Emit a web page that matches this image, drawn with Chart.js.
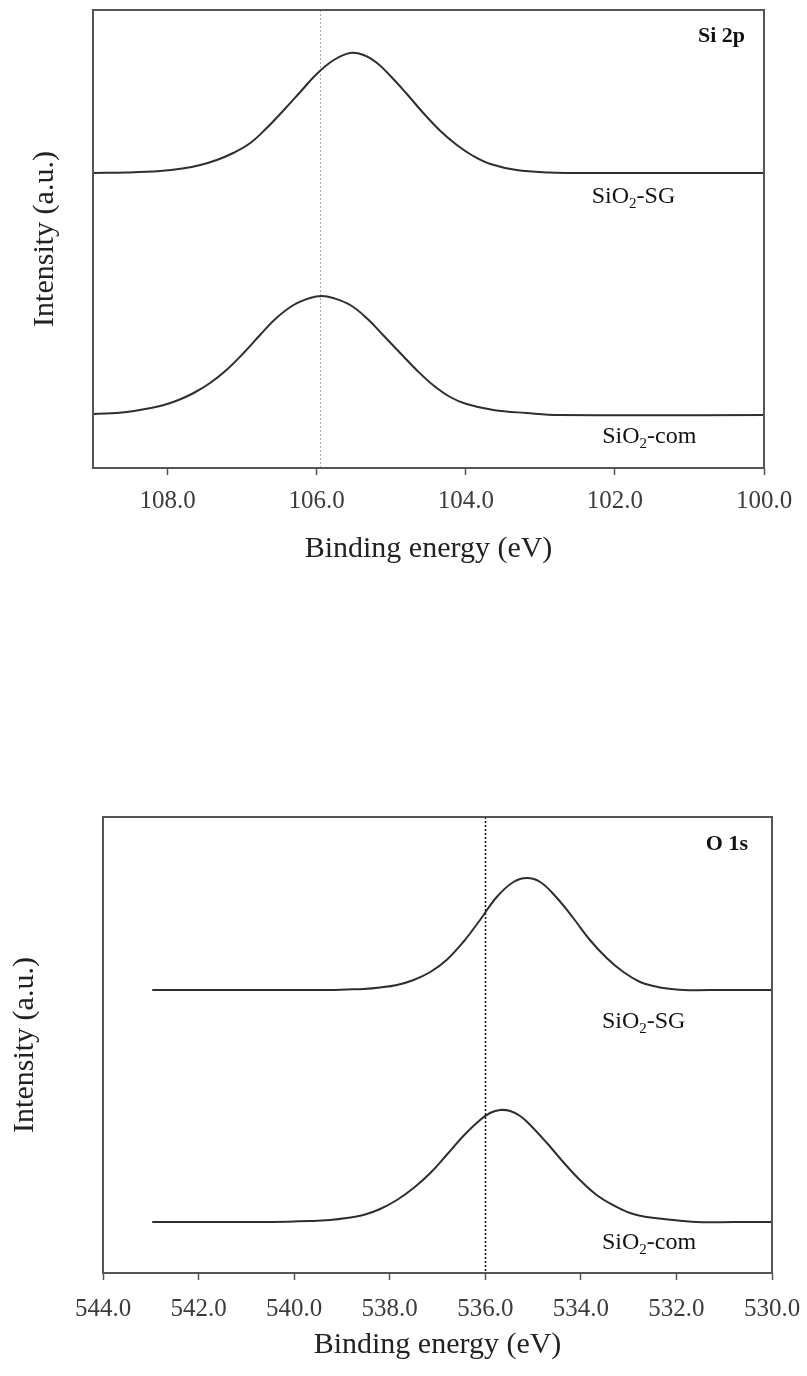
<!DOCTYPE html>
<html>
<head>
<meta charset="utf-8">
<script src="https://cdn.jsdelivr.net/npm/chart.js@4.4.1/dist/chart.umd.min.js"></script>
<style>
  html, body { margin: 0; padding: 0; background: #fff; }
  body { width: 807px; height: 1376px; position: relative; overflow: hidden; }
  canvas { position: absolute; left: 0; }
  #si2p { top: 0; }
  #o1s { top: 780px; }
</style>
</head>
<body>
<canvas id="si2p" width="807" height="620"></canvas>
<canvas id="o1s" width="807" height="596"></canvas>
<script>
// tick labels (eV)
const si2pTicks = [108, 106, 104, 102, 100];
const o1sTicks = [544, 542, 540, 538, 536, 534, 532, 530];

// Si 2p, SiO2-SG
const siSgEnergy = [109.0, 108.55, 108.10, 107.80, 107.56, 107.34, 107.12, 106.89, 106.67, 106.44, 106.22, 106.00, 105.77, 105.55, 105.37, 105.19, 105.01, 104.79, 104.57, 104.34, 104.12, 103.90, 103.67, 103.32, 102.87, 102.47, 100.0];
const siSgIntensity = [295, 295.5, 297, 299.5, 303, 308, 315, 325, 340, 358, 376, 394, 408, 415, 413, 405, 392, 374, 355, 337, 323, 312, 304, 298, 295.5, 295, 295];

// Si 2p, SiO2-com
const siComEnergy = [109.0, 108.55, 108.10, 107.87, 107.65, 107.43, 107.21, 106.98, 106.76, 106.54, 106.31, 106.09, 105.93, 105.78, 105.55, 105.33, 105.11, 104.88, 104.66, 104.44, 104.21, 103.99, 103.63, 103.19, 102.74, 100.0];
const siComIntensity = [54, 56, 62, 67.5, 75, 85, 98, 115, 133, 150, 163, 170, 172, 170, 163, 150, 133, 115, 98, 83, 71, 64, 58, 55, 53, 53];

// O 1s, SiO2-SG
const oSgEnergy = [542.97, 540.5, 539.25, 538.90, 538.55, 538.20, 537.85, 537.50, 537.15, 536.81, 536.46, 536.11, 535.76, 535.41, 535.13, 534.85, 534.50, 534.16, 533.81, 533.46, 533.11, 532.76, 532.48, 532.20, 531.86, 531.0, 530.0];
const oSgIntensity = [283, 283, 283, 283.5, 284, 285.5, 288, 293, 301, 313, 331, 353, 376, 391, 395, 391, 375, 355, 333, 315, 301, 291, 287, 284.5, 283, 283, 283];

// O 1s, SiO2-com
const oComEnergy = [542.97, 540.5, 539.60, 539.25, 538.90, 538.55, 538.20, 537.85, 537.50, 537.15, 536.81, 536.46, 536.11, 535.90, 535.69, 535.48, 535.27, 535.06, 534.71, 534.37, 534.02, 533.67, 533.33, 532.97, 532.62, 532.27, 531.58, 530.8, 530.0];
const oComIntensity = [51, 51, 52, 53, 55, 58, 64, 73, 85, 100, 118, 137, 153, 160, 163, 162, 157, 148, 130, 111, 93, 78, 68, 60, 56, 54, 51, 51, 51];

// reference (dotted) lines
const si2pRefLine = 105.95;
const o1sRefLine = 536.0;

(function init() {
  const serif = '"Liberation Serif", "Times New Roman", serif';

  const plotFrame = {
    id: 'plotFrame',
    afterDatasetsDraw(chart) {
      const { ctx, chartArea: { left, top, width, height } } = chart;
      ctx.save();
      ctx.strokeStyle = '#555';
      ctx.lineWidth = 2;
      ctx.strokeRect(left, top, width, height);
      ctx.restore();
    },
  };

  const refLine = {
    id: 'refLine',
    beforeDatasetsDraw(chart, args, opts) {
      const { ctx, chartArea: { top, bottom }, scales: { x } } = chart;
      const px = Math.round(x.getPixelForValue(opts.value)) + 0.5;
      ctx.save();
      ctx.strokeStyle = opts.color;
      ctx.lineWidth = opts.width;
      ctx.setLineDash(opts.dash);
      ctx.beginPath();
      ctx.moveTo(px, top);
      ctx.lineTo(px, bottom);
      ctx.stroke();
      ctx.restore();
    },
  };

  function drawFormula(ctx, x, y, name) {
    ctx.font = '24px ' + serif;
    ctx.fillText('SiO', x, y);
    let w = ctx.measureText('SiO').width;
    ctx.font = '15px ' + serif;
    ctx.fillText('2', x + w, y + 5);
    w += ctx.measureText('2').width;
    ctx.font = '24px ' + serif;
    ctx.fillText('-' + name, x + w, y);
  }

  const curveLabels = {
    id: 'curveLabels',
    afterDraw(chart, args, opts) {
      const { ctx, chartArea, scales: { x, y } } = chart;
      ctx.save();
      ctx.fillStyle = '#111';
      ctx.textBaseline = 'alphabetic';
      ctx.textAlign = 'left';
      opts.items.forEach((it) => {
        drawFormula(ctx, x.getPixelForValue(it.x), y.getPixelForValue(it.y), it.name);
      });
      ctx.font = 'bold 22px ' + serif;
      ctx.textAlign = 'right';
      ctx.fillText(opts.panel, chartArea.right - opts.panelDx, chartArea.top + opts.panelDy);
      ctx.restore();
    },
  };

  function makeDataset(energy, intensity) {
    return {
      data: energy.map((e, i) => ({ x: e, y: intensity[i] })),
      borderColor: '#2e2e2e',
      borderWidth: 2,
      pointRadius: 0,
      fill: false,
      tension: 0.4,
    };
  }

  function renderPanel(id, p) {
    return new Chart(document.getElementById(id), {
      type: 'line',
      data: { datasets: p.series.map((s) => makeDataset(s[0], s[1])) },
      options: {
        animation: false,
        responsive: false,
        events: [],
        layout: { padding: { left: 0, top: p.top, right: p.right, bottom: p.bottom } },
        scales: {
          x: {
            type: 'linear',
            reverse: true,
            min: p.min,
            max: p.max,
            afterBuildTicks(scale) {
              scale.ticks = p.ticks.map((value) => ({ value }));
            },
            ticks: {
              callback: (v) => Number(v).toFixed(1),
              autoSkip: false,
              maxRotation: 0,
              padding: p.tickPad,
              color: '#3c3c3c',
              font: { family: serif, size: 25 },
            },
            grid: {
              display: true,
              drawOnChartArea: false,
              drawTicks: true,
              tickLength: 7,
              tickWidth: 1.5,
              tickColor: '#555',
            },
            border: { display: false },
            title: {
              display: true,
              text: 'Binding energy (eV)',
              color: '#222',
              font: { family: serif, size: 30 },
              padding: { top: 0, bottom: 0 },
            },
            afterFit(scale) {
              scale.height = p.xHeight;
              scale.paddingLeft = 0;
              scale.paddingRight = 0;
            },
          },
          y: {
            type: 'linear',
            min: 0,
            max: p.yMax,
            ticks: { display: false },
            grid: { display: false },
            border: { display: false },
            title: {
              display: true,
              text: 'Intensity (a.u.)',
              color: '#222',
              font: { family: serif, size: 30 },
              padding: { top: p.yTitlePad, bottom: 0 },
            },
            afterFit(scale) {
              scale.width = p.left;
              scale.paddingTop = 0;
              scale.paddingBottom = 0;
            },
          },
        },
        plugins: {
          legend: { display: false },
          tooltip: { enabled: false },
          refLine: p.refLine,
          curveLabels: p.labels,
        },
      },
      plugins: [refLine, plotFrame, curveLabels],
    });
  }

  renderPanel('si2p', {
    min: 100, max: 109, ticks: si2pTicks, yMax: 458,
    top: 10, right: 43, bottom: 53, left: 93, xHeight: 99, yTitlePad: 27, tickPad: 11,
    series: [[siSgEnergy, siSgIntensity], [siComEnergy, siComIntensity]],
    refLine: { value: si2pRefLine, color: '#aaa', width: 1, dash: [2, 2] },
    labels: {
      panel: 'Si 2p', panelDx: 19, panelDy: 32,
      items: [{ name: 'SG', x: 102.31, y: 265 }, { name: 'com', x: 102.17, y: 25 }],
    },
  });

  renderPanel('o1s', {
    min: 530, max: 544, ticks: o1sTicks, yMax: 456,
    top: 37, right: 35, bottom: 13, left: 103, xHeight: 90, yTitlePad: 7, tickPad: 14,
    series: [[oSgEnergy, oSgIntensity], [oComEnergy, oComIntensity]],
    refLine: { value: o1sRefLine, color: '#111', width: 1.5, dash: [2, 2] },
    labels: {
      panel: 'O 1s', panelDx: 24, panelDy: 33,
      items: [{ name: 'SG', x: 533.56, y: 245 }, { name: 'com', x: 533.56, y: 24 }],
    },
  });
})();
</script>
</body>
</html>
